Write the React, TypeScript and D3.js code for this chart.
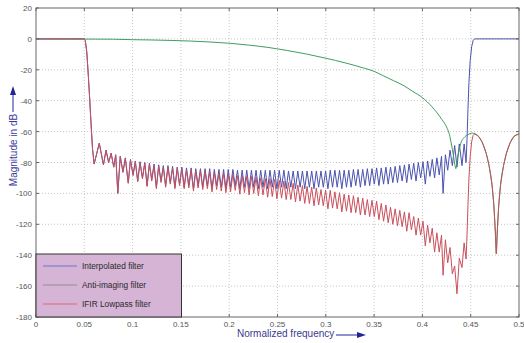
import React from "react";
import * as d3 from "d3";

const W = 524;
const H = 343;

const xTicks = [0, 0.05, 0.1, 0.15, 0.2, 0.25, 0.3, 0.35, 0.4, 0.45, 0.5];
const xTickLabels = ["0", "0.05", "0.1", "0.15", "0.2", "0.25", "0.3", "0.35", "0.4", "0.45", "0.5"];
const yTicks = [20, 0, -20, -40, -60, -80, -100, -120, -140, -160, -180];
const yTickLabels = ["20", "0", "-20", "-40", "-60", "-80", "-100", "-120", "-140", "-160", "-180"];

const seriesNames = ["Interpolated filter", "Anti-imaging filter", "IFIR Lowpass filter"];

// Interpolated filter [normalized frequency, dB]
const interpolated: [number, number][] = [
  [0, 0], [0.05, 0], [0.051, -1], [0.0525, -8], [0.054, -22], [0.0555, -38], [0.057, -55], [0.0585, -71], [0.0602, -81],
  [0.0655, -67.5], [0.0698, -81.5], [0.0725, -72], [0.0752, -80], [0.0778, -74], [0.0805, -83], [0.0825, -75], [0.0847, -100],
  [0.0872, -76], [0.09, -86], [0.0925, -77], [0.0955, -93], [0.0978, -78], [0.1005, -88], [0.1028, -79], [0.1053, -92],
  [0.1077, -79.5], [0.1102, -90], [0.1126, -80], [0.115, -95], [0.1174, -80.5], [0.1198, -91], [0.1222, -81], [0.1246, -96],
  [0.127, -81.5], [0.1294, -92], [0.1318, -82], [0.1342, -95], [0.1366, -82], [0.139, -93], [0.1414, -82.5], [0.1438, -96],
  [0.1462, -83], [0.1486, -94], [0.151, -83], [0.1534, -96], [0.1558, -83.5], [0.1582, -95], [0.1606, -83.5], [0.163, -97],
  [0.1654, -84], [0.1678, -95], [0.1702, -84], [0.1726, -96], [0.175, -84], [0.1774, -95], [0.1798, -84], [0.1822, -97],
  [0.1846, -84.5], [0.187, -95], [0.1894, -84.5], [0.1918, -96], [0.1942, -84.5], [0.1966, -97], [0.199, -84.5], [0.2014, -96],
  [0.2038, -84.5], [0.2062, -95], [0.2086, -85], [0.211, -97], [0.2134, -85], [0.2158, -96], [0.2182, -85], [0.2206, -97],
  [0.223, -85], [0.2254, -96], [0.2278, -85], [0.2302, -97], [0.2326, -85], [0.235, -96], [0.2374, -85], [0.2398, -97],
  [0.2422, -85], [0.2446, -96], [0.247, -85], [0.2494, -97], [0.2518, -85], [0.2542, -96], [0.2566, -85], [0.259, -97],
  [0.2614, -85.5], [0.2638, -96], [0.2662, -85.5], [0.2686, -97], [0.271, -85.5], [0.2734, -96], [0.2758, -85.5], [0.2782, -97],
  [0.2806, -85.5], [0.283, -96], [0.2854, -85.5], [0.2878, -97], [0.2902, -85.5], [0.2926, -96], [0.295, -85.5], [0.2974, -96],
  [0.2998, -85.5], [0.3022, -97], [0.3046, -85], [0.307, -96], [0.3094, -85], [0.3118, -96], [0.3142, -85], [0.3166, -97],
  [0.319, -85], [0.3214, -96], [0.3238, -85], [0.3262, -96], [0.3286, -84.5], [0.331, -95], [0.3334, -84.5], [0.3358, -96],
  [0.3382, -84.5], [0.3406, -95], [0.343, -84], [0.3454, -95], [0.3478, -84], [0.3502, -94], [0.3526, -83.5], [0.355, -95],
  [0.3574, -83.5], [0.3598, -94], [0.3622, -83], [0.3646, -94], [0.367, -83], [0.3694, -93], [0.3718, -82.5], [0.3742, -93],
  [0.3766, -82], [0.379, -92], [0.3814, -81.5], [0.3838, -93], [0.3862, -81], [0.3886, -91], [0.391, -80.5], [0.3934, -92],
  [0.3958, -80], [0.3982, -90], [0.4006, -79.5], [0.403, -94], [0.4054, -79], [0.4078, -89], [0.4102, -78], [0.4126, -90],
  [0.415, -77], [0.4174, -88], [0.4198, -76], [0.4214, -100], [0.4238, -75], [0.4262, -85], [0.4286, -72], [0.431, -82],
  [0.4334, -69], [0.4358, -83], [0.4382, -68], [0.441, -82], [0.4432, -68], [0.4452, -80],
  [0.4462, -65], [0.4472, -45], [0.4482, -28], [0.4495, -14], [0.451, -5], [0.4525, -1], [0.454, 0], [0.5, 0],
];

// Anti-imaging filter
const antiImaging: [number, number][] = [
  [0, 0], [0.05, -0.1], [0.08, -0.2], [0.1, -0.5], [0.12, -0.7], [0.14, -1], [0.16, -1.4], [0.18, -2], [0.2, -2.8],
  [0.22, -4], [0.24, -5.5], [0.26, -7.5], [0.28, -9.8], [0.3, -12.5], [0.32, -15.5], [0.34, -19], [0.35, -21], [0.36, -24],
  [0.37, -27], [0.38, -30], [0.39, -34], [0.4, -38], [0.41, -44], [0.42, -52], [0.425, -57], [0.428, -62], [0.43, -68],
  [0.432, -75], [0.4335, -81], [0.4346, -84], [0.436, -78], [0.438, -72], [0.44, -67], [0.443, -64], [0.447, -62],
  [0.452, -61], [0.455, -61.5], [0.458, -63], [0.462, -67], [0.466, -74], [0.469, -82], [0.472, -94], [0.474, -108],
  [0.4755, -125], [0.4765, -139], [0.4775, -125], [0.479, -108], [0.481, -94], [0.484, -82], [0.487, -74], [0.491, -67],
  [0.495, -63], [0.5, -61.5],
];

// IFIR lowpass filter
const ifirLowpass: [number, number][] = [
  [0, 0], [0.05, 0], [0.051, -1], [0.0525, -8], [0.054, -22], [0.0555, -38], [0.057, -55], [0.0585, -71], [0.0602, -81],
  [0.0655, -67.5], [0.0698, -81.5], [0.0725, -72], [0.0752, -80], [0.0778, -74], [0.0805, -83], [0.0825, -75], [0.0847, -100],
  [0.0872, -76], [0.09, -86.5], [0.0925, -77.5], [0.0955, -93.5], [0.0978, -78.5], [0.1005, -88.5], [0.1028, -79.5], [0.1053, -92.5],
  [0.1077, -80], [0.1102, -90.5], [0.1126, -80.5], [0.115, -95.5], [0.1174, -81], [0.1198, -92], [0.1222, -82], [0.1246, -97],
  [0.127, -82.5], [0.1294, -93], [0.1318, -83], [0.1342, -96], [0.1366, -83], [0.139, -94], [0.1414, -83.5], [0.1438, -97],
  [0.1462, -84], [0.1486, -95], [0.151, -84], [0.1534, -97], [0.1558, -85], [0.1582, -96.5], [0.1606, -85], [0.163, -98.5],
  [0.1654, -85.5], [0.1678, -96.5], [0.1702, -85.5], [0.1726, -97.5], [0.175, -86], [0.1774, -97], [0.1798, -86], [0.1822, -99],
  [0.1846, -86.5], [0.187, -97.5], [0.1894, -87], [0.1918, -98.5], [0.1942, -87], [0.1966, -99.5], [0.199, -87.5], [0.2014, -99],
  [0.2038, -87.5], [0.2062, -98], [0.2086, -88.5], [0.211, -100.5], [0.2134, -88.5], [0.2158, -99.5], [0.2182, -89], [0.2206, -101],
  [0.223, -89], [0.2254, -100], [0.2278, -89.5], [0.2302, -101.5], [0.2326, -90], [0.235, -101], [0.2374, -90.5], [0.2398, -102.5],
  [0.2422, -90.5], [0.2446, -102], [0.247, -91], [0.2494, -103.5], [0.2518, -91.5], [0.2542, -103], [0.2566, -92], [0.259, -104],
  [0.2614, -93], [0.2638, -104], [0.2662, -93.5], [0.2686, -105.5], [0.271, -94.5], [0.2734, -105], [0.2758, -95], [0.2782, -106.5],
  [0.2806, -95.5], [0.283, -106.5], [0.2854, -96], [0.2878, -108], [0.2902, -96.5], [0.2926, -107.5], [0.295, -97.5], [0.2974, -108],
  [0.2998, -98], [0.3022, -110], [0.3046, -98], [0.307, -109.5], [0.3094, -99], [0.3118, -110], [0.3142, -99.5], [0.3166, -112],
  [0.319, -100.5], [0.3214, -111.5], [0.3238, -101], [0.3262, -112.5], [0.3286, -101.5], [0.331, -112.5], [0.3334, -102.5], [0.3358, -114],
  [0.3382, -103], [0.3406, -114], [0.343, -104], [0.3454, -115], [0.3478, -104.5], [0.3502, -115], [0.3526, -105], [0.355, -117],
  [0.3574, -106.5], [0.3598, -118], [0.3622, -107.5], [0.3646, -119], [0.367, -109], [0.3694, -120], [0.3718, -110], [0.3742, -121],
  [0.3766, -111], [0.379, -121.5], [0.3814, -112], [0.3838, -124.5], [0.3862, -112.5], [0.3886, -123.5], [0.391, -115], [0.3934, -127],
  [0.3958, -116], [0.3982, -127], [0.4006, -118], [0.403, -134], [0.4054, -120.5], [0.4078, -132], [0.4102, -122.5], [0.4126, -138],
  [0.415, -125.5], [0.4174, -138], [0.4198, -127], [0.4214, -153], [0.4238, -130], [0.4262, -145], [0.4286, -135], [0.431, -152],
  [0.4334, -147], [0.4358, -165], [0.4382, -142], [0.441, -148], [0.4432, -132], [0.4452, -142.5],
  [0.4462, -127], [0.4472, -107], [0.4482, -90], [0.4495, -76], [0.451, -66.5], [0.4525, -62.5], [0.454, -61.5],
  [0.458, -63], [0.462, -67], [0.466, -74], [0.469, -82], [0.472, -94], [0.474, -108], [0.4755, -125], [0.4765, -139],
  [0.4775, -125], [0.479, -108], [0.481, -94], [0.484, -82], [0.487, -74], [0.491, -67], [0.495, -63], [0.5, -61.5],
];

const COLORS = { blue: "#4b52ae", green: "#3f9d5f", red: "#c8505c" };
const LEGEND_COLORS = ["#7272d0", "#8e8e8e", "#e06274"];

const PL = 36, PR = 519, PT = 8, PB = 317;

export default function App() {
  const x = d3.scaleLinear().domain([0, 0.5]).range([PL, PR]);
  const y = d3.scaleLinear().domain([20, -180]).range([PT, PB]);
  const lin = d3.line<[number, number]>().x((d) => x(d[0])).y((d) => y(d[1]));
  const smooth = d3
    .line<[number, number]>()
    .x((d) => x(d[0]))
    .y((d) => y(d[1]))
    .curve(d3.curveMonotoneX);

  const font = "'Liberation Sans', Arial, sans-serif";
  const legendRows = [266, 285, 304];

  return (
    <svg
      width={W}
      height={H}
      style={{ position: "absolute", left: 0, top: 0, background: "#fff" }}
      fontFamily={font}
    >
      <rect x={0} y={0} width={W} height={H} fill="#fff" />
      <defs>
        <clipPath id="plot">
          <rect x={PL} y={PT} width={PR - PL} height={PB - PT} />
        </clipPath>
      </defs>
      {/* grid */}
      {xTicks.slice(1, -1).map((t) => (
        <line key={"gx" + t} x1={x(t)} x2={x(t)} y1={PT} y2={PB} stroke="#b8b8b8" strokeWidth={0.8} strokeDasharray="1,2" />
      ))}
      {yTicks.slice(1, -1).map((t) => (
        <line key={"gy" + t} x1={PL} x2={PR} y1={y(t)} y2={y(t)} stroke="#b8b8b8" strokeWidth={0.8} strokeDasharray="1,2" />
      ))}
      <g clipPath="url(#plot)" fill="none" strokeWidth={1} strokeLinejoin="round">
        <path d={lin(interpolated) || ""} stroke={COLORS.blue} />
        <path d={smooth(antiImaging) || ""} stroke={COLORS.green} />
        <path d={lin(ifirLowpass) || ""} stroke={COLORS.red} />
      </g>
      {/* box */}
      <rect x={PL} y={PT} width={PR - PL} height={PB - PT} fill="none" stroke="#666" strokeWidth={1} />
      {/* ticks */}
      {xTicks.map((t, i) => (
        <g key={"xt" + t}>
          <line x1={x(t)} x2={x(t)} y1={PB} y2={PB - 3} stroke="#666" />
          <line x1={x(t)} x2={x(t)} y1={PT} y2={PT + 3} stroke="#666" />
          <text x={x(t)} y={PB + 10} fontSize={8} fill="#555" textAnchor="middle">
            {xTickLabels[i]}
          </text>
        </g>
      ))}
      {yTicks.map((t, i) => (
        <g key={"yt" + t}>
          <line x1={PL} x2={PL + 3} y1={y(t)} y2={y(t)} stroke="#666" />
          <line x1={PR} x2={PR - 3} y1={y(t)} y2={y(t)} stroke="#666" />
          <text x={PL - 4} y={y(t) + 3} fontSize={8} fill="#555" textAnchor="end">
            {yTickLabels[i]}
          </text>
        </g>
      ))}
      {/* legend */}
      <rect x={PL} y={254} width={145.5} height={PB - 254} fill="#d6b4d6" stroke="#333" strokeWidth={1} />
      {seriesNames.map((name, i) => (
        <g key={name}>
          <line x1={43} x2={77} y1={legendRows[i]} y2={legendRows[i]} stroke={LEGEND_COLORS[i]} strokeWidth={1} />
          <text x={82} y={legendRows[i] + 3} fontSize={8.3} fill="#2a2a2a">
            {name}
          </text>
        </g>
      ))}
      {/* y label */}
      <text
        transform="translate(17,150) rotate(-90)"
        fontSize={10}
        fill="#3b3b9c"
        textAnchor="middle"
      >
        Magnitude in dB
      </text>
      <line x1={13} x2={13} y1={112} y2={93} stroke="#24249a" strokeWidth={1} />
      <path d="M13,86 L10,95 L16,95 Z" fill="#24249a" />
      {/* x label */}
      <text x={237} y={337} fontSize={10} fill="#3b3b8c">
        Normalized frequency
      </text>
      <line x1={336} x2={358} y1={335} y2={335} stroke="#24249a" strokeWidth={1} />
      <path d="M366,335 L357,332 L357,338 Z" fill="#24249a" />
    </svg>
  );
}
